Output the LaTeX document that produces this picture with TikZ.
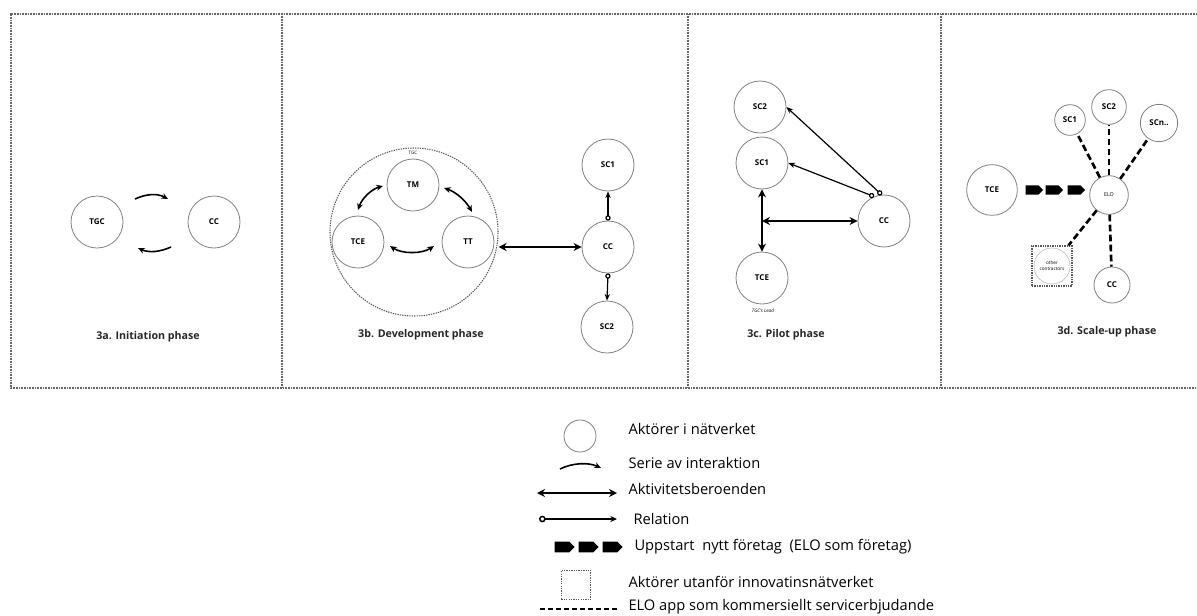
\documentclass[tikz,border=0pt]{standalone}
\usepackage{fontspec}
\setmainfont{Open Sans}
\usetikzlibrary{arrows.meta,shapes.symbols}

\tikzset{every picture/.style={line width=0.75pt}}
\tikzset{
  actor/.style={draw=black!50, line width=0.6pt, circle, minimum size=39pt, inner sep=0pt, font=\fontsize{6}{7}\selectfont\bfseries},
  outsider/.style={draw=black!65, dash pattern={on 1pt off 0.8pt}, line width=0.8pt, minimum size=30pt, inner sep=0pt},
  framing/.style={draw=black!60, dash pattern={on 0.7pt off 0.5pt}, line width=1pt},
  phase/.style={font=\fontsize{8}{10}\selectfont\bfseries, text=black!85},
  legendtext/.style={anchor=west, font=\fontsize{11}{13}\selectfont, inner sep=0pt},
  interact/.style={-{Stealth[length=5pt,width=4.5pt]}, line width=1.2pt},
  interactboth/.style={{Stealth[length=5pt,width=4.5pt]}-{Stealth[length=5pt,width=4.5pt]}, line width=1.2pt},
  depend/.style={{Stealth[length=6pt,width=6pt]}-{Stealth[length=6pt,width=6pt]}, line width=1.7pt},
  relation/.style={{Circle[open,length=4pt,width=4pt]}-{Stealth[length=5pt,width=4pt]}, line width=0.9pt},
  elolink/.style={line width=2pt, dash pattern={on 5pt off 2.5pt}},
  startup/.style={signal, signal to=east, fill=black, minimum width=13pt, minimum height=7pt, inner sep=0pt}
}

\begin{document}
\begin{tikzpicture}[x=0.75pt,y=0.75pt,yscale=-1,xscale=1]
\useasboundingbox (0,0) rectangle (1197,615);

%Shape: Frame
\draw [framing] (1197,14) -- (11,14) -- (11,388) -- (1197,388) ;
\draw [framing] (282,14) -- (282,388) ;
\draw [framing] (688,14) -- (688,388) ;
\draw [framing] (941,14) -- (941,388) ;

% 3a
\node [actor] (tgca) at (97,222) {TGC};
\node [actor] (cca) at (214,222) {CC};
\coordinate (ia1) at (135,199);
\coordinate (ia2) at (168,199);
\coordinate (ia3) at (171,247);
\coordinate (ia4) at (138,248);
\draw [interact] (ia1) .. controls (146,194) and (157,193) .. (ia2) ;
\draw [interact] (ia3) .. controls (160,252) and (149,253) .. (ia4) ;
\node [phase] (pha) at (148,337) {3a. Initiation phase};

% 3b
%Shape: Circle
\node [circle, draw=black!65, dash pattern={on 1pt off 0.8pt}, line width=0.8pt, minimum size=126pt] (tgcb) at (414,232) {};
\node [font=\fontsize{3.5}{4}\selectfont] (tgcblab) at (413,153) {TGC};
\node [actor] (tmb) at (413,185) {TM};
\node [actor] (tceb) at (358,242) {TCE};
\node [actor] (ttb) at (468,242) {TT};
\node [actor] (ccb) at (608,247) {CC};
\node [actor] (sc1b) at (608,165) {SC1};
\node [actor] (sc2b) at (607,327) {SC2};
\coordinate (ib1) at (383,186);
\coordinate (ib2) at (358,210);
\coordinate (ib3) at (444,188);
\coordinate (ib4) at (472,212);
\coordinate (ib5) at (390,246);
\coordinate (ib6) at (434,246);
\draw [interactboth] (ib1) .. controls (372,189) and (362,198) .. (ib2) ;
\draw [interactboth] (ib3) .. controls (456,192) and (466,201) .. (ib4) ;
\draw [interactboth] (ib5) .. controls (402,254) and (422,254) .. (ib6) ;
\draw [depend] (tgcb.east |- ccb) -- (ccb) ;
\draw [relation] (ccb.north) -- (sc1b.south) ;
\draw [relation] (ccb.south) -- (sc2b.north) ;
\node [phase] (phb) at (421,335) {3b. Development phase};

% 3c
\node [actor] (sc2c) at (760,107) {SC2};
\node [actor] (sc1c) at (762,163) {SC1};
\node [actor] (ccc) at (884,221) {CC};
\node [actor] (tcec) at (762,278) {TCE};
\node [font=\fontsize{3.5}{4}\selectfont\itshape] (leadc) at (763,311) {TGC's Lead};
\draw [depend] (sc1c.south) -- (tcec.north) ;
\coordinate (hubc) at (762,221);
\draw [depend] (hubc) -- (ccc.west) ;
\draw [relation] (ccc.112) -- (sc1c.east) ;
\draw [relation] (ccc.95) -- (sc2c.east) ;
\node [phase] (phc) at (786,335) {3c. Pilot phase};

% 3d
\node [actor, minimum size=38pt] (tced) at (992,190) {TCE};
\node [actor, minimum size=29pt, font=\fontsize{4}{5}\selectfont] (elod) at (1109,195) {ELO};
\node [actor, minimum size=23pt] (sc1d) at (1070,120) {SC1};
\node [actor, minimum size=26pt] (sc2d) at (1109,107) {SC2};
\node [actor, minimum size=28pt] (scnd) at (1159,123) {SCn..};
\node [actor, minimum size=27pt] (ccd) at (1112,285) {CC};
\node [outsider] (othd) at (1052,266) {};
\node [circle, draw=black!25, line width=0.5pt, minimum size=27pt, inner sep=0pt, align=center, font=\fontsize{3.5}{4.5}\selectfont] (othdlab) at (1052,266) {other\\contractors};
\foreach \i/\x in {1/1032,2/1052,3/1074}
  \node [startup] (upd\i) at (\x,190) {};
\draw [elolink] (elod) -- (sc1d) ;
\draw [elolink] (elod) -- (sc2d) ;
\draw [elolink] (elod) -- (scnd) ;
\draw [elolink] (elod) -- (ccd) ;
\draw [elolink] (elod) -- (othd) ;
\node [phase] (phd) at (1107,332) {3d. Scale-up phase};

% legend
\node [actor, minimum size=24pt] (lg1) at (580,436) {};
\node [legendtext] (lt1) at (628,429) {Aktörer i nätverket};
\coordinate (lg2a) at (560,469);
\coordinate (lg2b) at (601,468);
\draw [interact] (lg2a) .. controls (572,463) and (588,462) .. (lg2b) ;
\node [legendtext] (lt2) at (628,463) {Serie av interaktion};
\coordinate (lg3a) at (537,493);
\coordinate (lg3b) at (617,493);
\draw [depend, line width=1.3pt] (lg3a) -- (lg3b) ;
\node [legendtext] (lt3) at (628,489) {Aktivitetsberoenden};
\coordinate (lg4a) at (539,519);
\coordinate (lg4b) at (617,519);
\draw [relation, line width=1.1pt, {Circle[open,length=5pt,width=5pt]}-{Stealth[length=5pt,width=4.5pt]}] (lg4a) -- (lg4b) ;
\node [legendtext] (lt4) at (633,519) {Relation};
\foreach \i/\x in {1/562,2/586,3/610}
  \node [startup, minimum width=15pt, minimum height=8pt] (lg5\i) at (\x,547) {};
\node [legendtext] (lt5) at (634,547) {Uppstart \ nytt företag \ (ELO som företag)};
\node [outsider, minimum size=22pt] (lg6) at (576,585) {};
\node [legendtext] (lt6) at (628,582) {Aktörer utanför innovatinsnätverket};
\coordinate (lg7a) at (540,609);
\coordinate (lg7b) at (618,609);
\draw [line width=1.2pt, dash pattern={on 4pt off 2pt}] (lg7a) -- (lg7b) ;
\node [legendtext, anchor=base west] (lt7) at (628,610) {ELO app som kommersiellt servicerbjudande};

\end{tikzpicture}
\end{document}
